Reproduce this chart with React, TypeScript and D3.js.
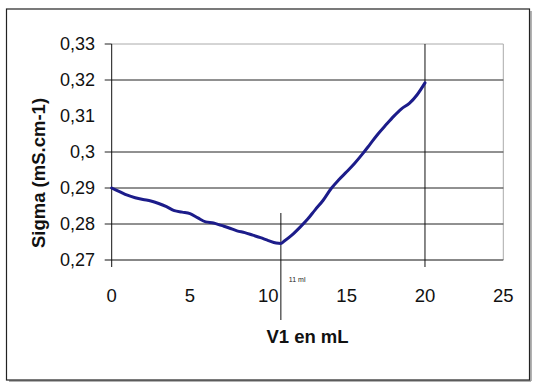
import React from "react";
import * as d3 from "d3";

const volumes = [0, 0.5, 1, 1.5, 2, 2.5, 3, 3.5, 4, 4.5, 5, 5.5, 6, 6.5, 7, 7.5, 8, 8.5, 9, 9.5, 10, 10.5, 10.8, 11, 11.5, 12, 12.5, 13, 13.5, 14, 14.5, 15, 15.5, 16, 16.5, 17, 17.5, 18, 18.5, 19, 19.5, 20];
const sigma = [0.29, 0.289, 0.288, 0.2873, 0.2868, 0.2864, 0.2857, 0.2848, 0.2837, 0.2833, 0.2829, 0.2817, 0.2806, 0.2803, 0.2796, 0.2789, 0.2781, 0.2776, 0.2769, 0.2762, 0.2754, 0.2747, 0.2746, 0.2752, 0.2769, 0.279, 0.2813, 0.284, 0.2866, 0.2898, 0.2923, 0.2945, 0.2968, 0.2994, 0.3022, 0.305, 0.3075, 0.3099, 0.312, 0.3135, 0.3159, 0.3192];

const xTicks = [0, 5, 10, 15, 20, 25];
const yTicks = [0.27, 0.28, 0.29, 0.3, 0.31, 0.32, 0.33];
const yTickLabels = ["0,27", "0,28", "0,29", "0,3", "0,31", "0,32", "0,33"];
const gridValues = [0.28, 0.29, 0.3, 0.32];
const equivalenceVolume = 10.8;
const endVolume = 20;
const equivalenceLabel = "11 ml";
const xTitle = "V1 en mL";
const yTitle = "Sigma (mS.cm-1)";

export default function App() {
  const x = d3.scaleLinear().domain([0, 25]).range([111.7, 503.3]);
  const y = d3.scaleLinear().domain([0.27, 0.33]).range([260, 44]);
  const line = d3
    .line<number>()
    .x((_, i) => x(volumes[i]))
    .y((d) => y(d))
    .curve(d3.curveMonotoneX);
  const font = "'Liberation Sans', Arial, sans-serif";
  return (
    <svg
      width={536}
      height={388}
      style={{ position: "absolute", left: 0, top: 0, background: "#fff" }}
      fontFamily={font}
    >
      <rect x={0} y={0} width={536} height={388} fill="#fff" />
      {/* outer frame with shadow */}
      <line x1={531} y1={11} x2={531} y2={381} stroke="#999" strokeWidth={1.5} />
      <line x1={9} y1={381} x2={531} y2={381} stroke="#999" strokeWidth={1.5} />
      <rect x={6.5} y={9} width={523} height={371} fill="none" stroke="#222" strokeWidth={1.2} />

      {/* plot border top/right */}
      <line x1={x(0)} y1={y(0.33)} x2={x(25)} y2={y(0.33)} stroke="#aaa" strokeWidth={1} />
      <line x1={x(25)} y1={y(0.33)} x2={x(25)} y2={y(0.27)} stroke="#aaa" strokeWidth={1} />

      {/* gridlines */}
      {gridValues.map((v) => (
        <line key={v} x1={x(0) - 7} x2={x(25)} y1={y(v)} y2={y(v)} stroke="#222" strokeWidth={1} />
      ))}
      <line x1={x(0) - 7} x2={x(0)} y1={y(0.33)} y2={y(0.33)} stroke="#222" strokeWidth={1} />

      {/* axes */}
      <line x1={x(0) - 7} x2={x(25)} y1={y(0.27)} y2={y(0.27)} stroke="#111" strokeWidth={1} />
      <line x1={x(0)} x2={x(0)} y1={y(0.33)} y2={y(0.27) + 7} stroke="#111" strokeWidth={1} />
      <line x1={x(endVolume)} x2={x(endVolume)} y1={y(0.33)} y2={y(0.27) + 7} stroke="#111" strokeWidth={1} />
      <line x1={x(equivalenceVolume)} x2={x(equivalenceVolume)} y1={213} y2={320} stroke="#111" strokeWidth={1} />

      {/* y tick labels */}
      {yTicks.map((v, i) => (
        <text key={v} x={95} y={y(v)} dy="0.36em" textAnchor="end" fontSize={18} fill="#111">
          {yTickLabels[i]}
        </text>
      ))}
      {/* x tick labels */}
      {xTicks.map((v) => (
        <text key={v} x={x(v)} y={302} textAnchor="middle" fontSize={18.5} fill="#111">
          {v}
        </text>
      ))}

      <text x={x(equivalenceVolume) + 8} y={282} fontSize={7} fill="#222">
        {equivalenceLabel}
      </text>

      {/* titles */}
      <text x={307.5} y={343} textAnchor="middle" fontSize={18.5} fontWeight="bold" fill="#111">
        {xTitle}
      </text>
      <text
        transform="translate(45,173) rotate(-90)"
        textAnchor="middle"
        fontSize={18.5}
        fontWeight="bold"
        fill="#111"
      >
        {yTitle}
      </text>

      {/* data line */}
      <path d={line(sigma) || ""} fill="none" stroke="#1c1c8a" strokeWidth={3} strokeLinejoin="round" strokeLinecap="round" />
    </svg>
  );
}
